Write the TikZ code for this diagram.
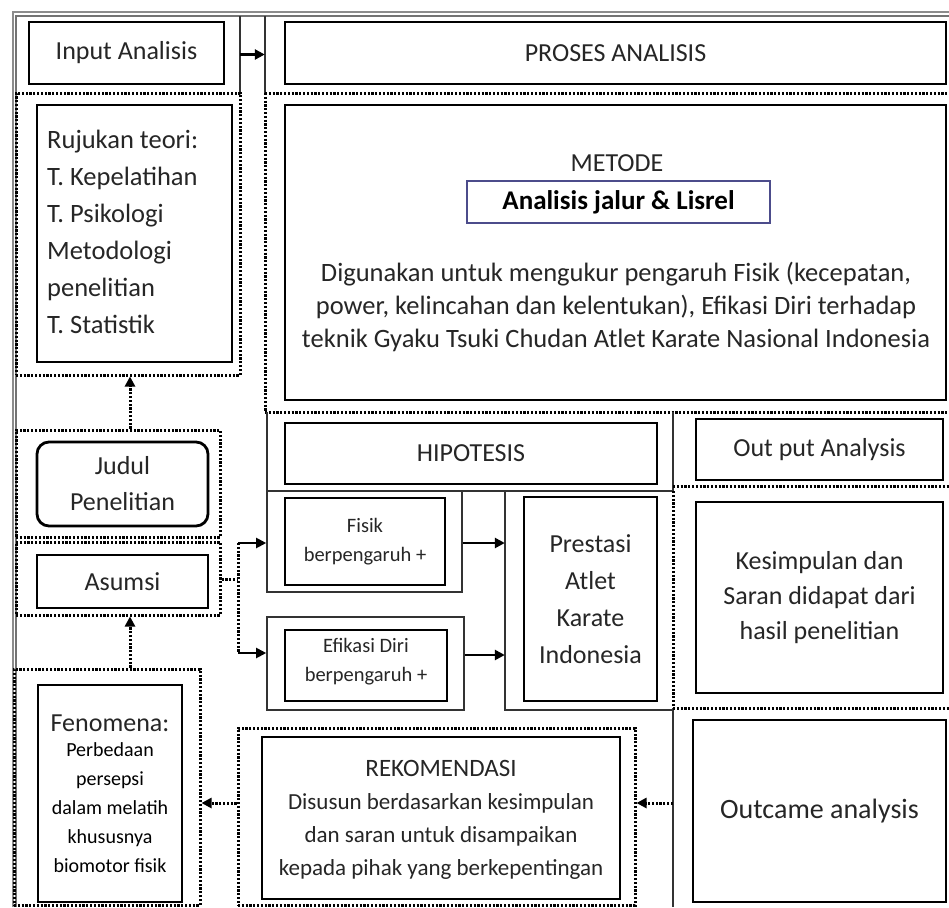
\documentclass[tikz,border=0pt]{standalone}
\usepackage{fontspec}
\setmainfont{Carlito}
\usetikzlibrary{arrows.meta,fit}
\newcommand\myfs[2]{\fontsize{#1}{#2}\selectfont}
\begin{document}
\begin{tikzpicture}[x=1pt,y=-1pt,
  box/.style={draw=black, line width=2.8pt, inner sep=0pt},
  rbox/.style={box, rounded corners=12pt},
  thinl/.style={draw=black!80, line width=1.6pt},
  dotl/.style={draw=black, line width=3pt, dash pattern=on 2.2pt off 1.6pt},
  hold/.style={inner sep=0pt},
  tip/.style={-{Triangle[length=10pt,width=10pt]}},
  solidarr/.style={draw=black, line width=2.6pt, tip},
  dotarr/.style={dotl, tip},
  txt/.style={inner sep=0pt, align=center, text=black!85, font=\myfs{26}{33}},
]
\useasboundingbox (0,0) rectangle (949,907);
\fill[white] (0,0) rectangle (949,907);

% outer frame
\draw[black!45, line width=2.5pt] (13,907) -- (13,12) -- (949,12);
\draw[thinl, black!55] (16,907) -- (16,16) -- (949,16);

% ---------- left column ----------
\node[hold, fit={(16,16)(240,93)}] (inC) {};
\draw[thinl] (240,16) -- (240,93);
\node[dotl, hold, fit={(16,93)(240,375)}] (rujC) {};
\node[dotl, hold, fit={(16,430)(220,537)}] (judC) {};
\node[dotl, hold, fit={(16,542)(220,615)}] (asuC) {};
\node[dotl, hold, fit={(14,669)(200,905)}] (fenC) {};

\node[box, fit={(29,22)(224,84)}] (inp) {};
\node[txt] (inpT) at (inp) {Input Analisis};

\node[box, fit={(37,105)(232,362)}] (ruj) {};
\node[txt, align=left, anchor=north west, font=\myfs{26.5}{37}] (rujT) at (47,130)
  {Rujukan teori:\\T. Kepelatihan\\T. Psikologi\\Metodologi\\penelitian\\T. Statistik};

\node[rbox, fit={(37,442)(208,526)}] (jud) {};
\node[txt, font=\myfs{26}{36}] (judT) at (jud) {Judul\\Penelitian};

\node[box, fit={(37,555)(208,608)}] (asu) {};
\node[txt] (asuT) at (asu) {Asumsi};

\node[box, fit={(38,685)(182,902)}] (fen) {};
\node[txt] (fenT1) at (110,723) {Fenomena:};
\node[txt, font=\myfs{20}{29}, text=black, anchor=north] (fenT2) at (110,742)
  {Perbedaan\\persepsi\\dalam melatih\\khususnya\\biomotor fisik};

% ---------- proses column ----------
\node[hold, fit={(265,16)(949,93)}] (proC) {};
\draw[thinl] (265,93) -- (265,16);
\draw[dotl] (265,93) -- (949,93);
\draw[dotl] (265,93) -- (265,412);
\draw[dotl] (265,412) -- (949,412);

\node[box, fit={(285,22)(946,84)}] (pro) {};
\node[txt] (proT) at (pro) {PROSES ANALISIS};

\node[box, fit={(285,105)(946,400)}] (met) {};
\node[txt] (metT) at (617,163) {METODE};
\node[draw=blue!35!black!70, line width=1.4pt, hold, fit={(467,181)(770,223)}] (ana) {};
\node[txt, font=\bfseries\myfs{27}{33}, text=black] (anaT) at (ana) {Analisis jalur \& Lisrel};
\node[txt, font=\myfs{26.5}{33}, anchor=north] (parT) at (616,262)
  {Digunakan untuk mengukur pengaruh Fisik (kecepatan,\\power, kelincahan dan kelentukan), Efikasi Diri terhadap\\teknik Gyaku Tsuki Chudan Atlet Karate Nasional Indonesia};

% ---------- hipotesis ----------
\draw[thinl] (267,412) -- (267,491);
\draw[thinl] (267,491) -- (673,491);
\draw[thinl] (673,412) -- (673,491);
\node[thinl, hold, fit={(267,491)(462,592)}] (fisC) {};
\node[thinl, hold, fit={(267,617)(464,710)}] (efC) {};
\node[hold, fit={(505,491)(673,710)}] (preC) {};
\draw[thinl] (505,491) -- (505,710) -- (673,710);

\node[box, fit={(285,423)(657,484)}] (hip) {};
\node[txt] (hipT) at (hip) {HIPOTESIS};

\node[box, fit={(285,498)(445,585)}] (fis) {};
\node[txt, font=\myfs{20.5}{29}] (fisT) at (fis) {Fisik\\berpengaruh +};

\node[box, fit={(285,630)(447,701)}] (efi) {};
\node[txt, font=\myfs{20.5}{29}] (efiT) at (366,662) {Efikasi Diri\\berpengaruh +};

\node[box, fit={(524,497)(657,701)}] (pre) {};
\node[txt, font=\myfs{26}{37}] (preT) at (pre) {Prestasi\\Atlet\\Karate\\Indonesia};

% ---------- output column ----------
\draw[dotl] (673,491) -- (673,708);
\draw[thinl] (673,708) -- (673,907);
\draw[dotl] (673,486) -- (949,486);
\draw[dotl] (673,708) -- (949,708);

\node[box, fit={(696,419)(943,480)}] (out) {};
\node[txt] (outT) at (out) {Out put Analysis};

\node[box, fit={(696,502)(943,693)}] (kes) {};
\node[txt, font=\myfs{26}{35}] (kesT) at (kes) {Kesimpulan dan\\Saran didapat dari\\hasil penelitian};

\node[box, fit={(693,720)(946,902)}] (oca) {};
\node[txt, font=\myfs{28}{34}] (ocaT) at (oca) {Outcame analysis};

% ---------- rekomendasi ----------
\node[dotl, hold, fit={(238,728)(635,905)}] (rekC) {};
\node[box, fit={(262,737)(620,899)}] (rek) {};
\node[txt, font=\myfs{23}{33}] (rekT) at (441,820)
  {{\myfs{25}{33}REKOMENDASI}\\Disusun berdasarkan kesimpulan\\dan saran untuk disampaikan\\kepada pihak yang berkepentingan};

% ---------- connectors ----------
\draw[solidarr] (inC.east) -- (proC.west);

\coordinate (ax) at (130,0);
\draw[dotarr] (judC.north -| ax) -- (rujC.south -| ax);
\draw[dotarr] (fenC.north -| ax) -- (asuC.south -| ax);

\coordinate (b0) at (238,579);
\coordinate (bt) at (238,543);
\coordinate (bb) at (238,653);
\draw[dotl] (asuC.east |- b0) -- (b0);
\draw[dotl] (bt) -- (bb);
\draw[draw=black, line width=2pt, tip] (bt) -- (bt -| fisC.west);
\draw[draw=black, line width=2pt, tip] (bb) -- (bb -| efC.west);

\coordinate (f1) at (462,543);
\draw[solidarr] (fisC.east |- f1) -- (preC.west |- f1);
\coordinate (e1) at (464,655);
\draw[solidarr] (efC.east |- e1) -- (preC.west |- e1);

\coordinate (r0) at (673,803);
\draw[dotarr] (r0) -- (rekC.east |- r0);
\draw[dotarr] (rekC.west |- r0) -- (fenC.east |- r0);
\end{tikzpicture}
\end{document}
